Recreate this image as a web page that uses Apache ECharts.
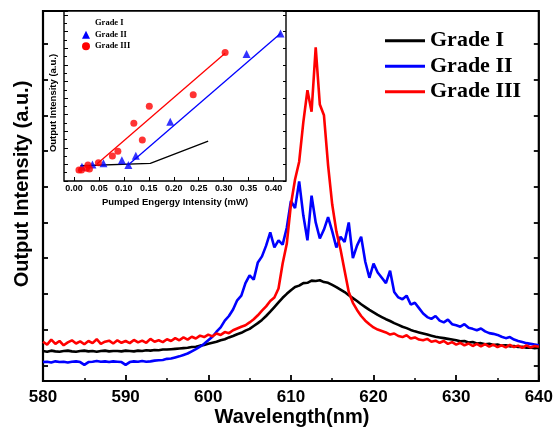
<!DOCTYPE html>
<html>
<head>
<meta charset="utf-8">
<script src="https://cdn.jsdelivr.net/npm/echarts@6/dist/echarts.min.js"></script>
<style>
html, body { margin: 0; padding: 0; background: #fff; }
#chart { width: 556px; height: 433px; }
</style>
</head>
<body>
<div id="chart"></div>
<script>
// Emission spectra, 580-640 nm in 0.5 nm steps
const wavelength = [
  580, 580.5, 581, 581.5, 582, 582.5, 583, 583.5, 584, 584.5,
  585, 585.5, 586, 586.5, 587, 587.5, 588, 588.5, 589, 589.5,
  590, 590.5, 591, 591.5, 592, 592.5, 593, 593.5, 594, 594.5,
  595, 595.5, 596, 596.5, 597, 597.5, 598, 598.5, 599, 599.5,
  600, 600.5, 601, 601.5, 602, 602.5, 603, 603.5, 604, 604.5,
  605, 605.5, 606, 606.5, 607, 607.5, 608, 608.5, 609, 609.5,
  610, 610.5, 611, 611.5, 612, 612.5, 613, 613.5, 614, 614.5,
  615, 615.5, 616, 616.5, 617, 617.5, 618, 618.5, 619, 619.5,
  620, 620.5, 621, 621.5, 622, 622.5, 623, 623.5, 624, 624.5,
  625, 625.5, 626, 626.5, 627, 627.5, 628, 628.5, 629, 629.5,
  630, 630.5, 631, 631.5, 632, 632.5, 633, 633.5, 634, 634.5,
  635, 635.5, 636, 636.5, 637, 637.5, 638, 638.5, 639, 639.5,
  640
];

const gradeI = [
  4.0, 3.8, 4.1, 3.9, 3.8, 4.0, 4.1, 3.9, 3.8, 4.0,
  4.1, 3.9, 4.0, 3.8, 4.0, 4.1, 3.9, 4.0, 4.0, 3.9,
  4.1, 4.0, 3.9, 4.1, 4.0, 4.2, 4.1, 4.3, 4.2, 4.4,
  4.4, 4.5, 4.6, 4.7, 4.8, 4.9, 5.1, 5.2, 5.5, 5.7,
  6.0, 6.3, 6.6, 7.0, 7.3, 7.8, 8.2, 8.7, 9.1, 9.7,
  10.2, 11.0, 11.8, 12.7, 13.8, 15.0, 16.3, 17.6, 18.9, 20.0,
  21.0, 21.9, 22.3, 23.0, 23.1, 23.7, 23.6, 23.8, 23.3, 23.1,
  22.5, 21.9, 21.2, 20.5, 19.6, 18.8, 18.0, 17.1, 16.3, 15.5,
  14.8, 14.1, 13.5, 12.9, 12.4, 11.8, 11.3, 10.8, 10.4, 9.9,
  9.5, 9.2, 8.9, 8.6, 8.3, 8.0, 7.8, 7.6, 7.4, 7.2,
  7.0, 6.7, 6.8, 6.4, 6.5, 6.1, 6.2, 5.9, 6.0, 5.7,
  5.8, 5.5, 5.6, 5.3, 5.4, 5.1, 5.2, 4.9, 5.0, 4.8,
  4.9
];

const gradeII = [
  0.9, 1.0, 0.8, 1.1, 0.9, 1.0, 0.8, 1.0, 1.1, 0.9,
  0.1, 0.9, 1.0, 1.2, 1.0, 1.1, 0.9, 1.1, 1.0, 0.9,
  0.1, 0.9, 1.1, 1.0, 1.2, 1.0, 1.1, 1.3, 1.4, 1.5,
  1.8, 1.9, 2.2, 2.5, 2.9, 3.3, 3.9, 4.5, 5.2, 6.0,
  7.0, 8.0, 9.4, 10.6, 12.5, 13.8, 15.6, 18.2, 19.5, 23.0,
  25.2, 24.0, 28.8, 30.5, 33.5, 37.2, 33.0, 35.0, 33.8, 38.5,
  46.0, 44.0, 51.5, 42.0, 35.0, 47.5, 40.0, 35.5, 38.0, 41.5,
  37.5, 33.0, 36.0, 34.5, 40.0, 30.0, 33.5, 36.0, 29.0, 24.5,
  28.5, 26.0, 24.5, 23.0, 26.5, 20.5, 19.0, 18.5, 19.5, 17.0,
  17.5, 16.0, 14.5, 13.5, 13.0, 13.8, 12.5, 12.0, 12.8, 11.5,
  11.2, 10.8, 11.5, 10.5, 10.2, 9.8, 10.3, 9.5, 9.0, 8.8,
  8.5, 8.0, 7.6, 7.9, 7.2, 6.8, 6.5, 6.2, 6.0, 5.8,
  5.6
];

const gradeIII = [
  6.6, 5.8, 7.2, 6.0, 6.8, 5.6, 6.4, 7.0, 6.1, 6.7,
  5.9, 6.8, 6.2, 7.3, 6.0, 6.6, 6.9, 6.1, 7.0, 6.3,
  6.8, 6.2, 7.1, 6.4, 6.9, 6.3, 7.4, 6.6, 7.0, 6.5,
  7.3, 6.8, 7.6, 7.0, 7.8, 7.2, 8.0, 7.5, 8.3, 7.9,
  8.6, 8.1, 8.9, 8.5, 9.3, 9.0, 9.8, 10.3, 10.8, 11.2,
  12.0, 12.9, 14.0, 15.3, 16.5, 18.0, 19.0, 21.5, 28.5, 34.0,
  45.0, 52.0, 57.0, 68.0, 77.0, 71.0, 89.0, 73.0, 70.0, 56.0,
  45.0, 37.5, 32.5, 26.5, 20.5, 17.5, 15.5, 13.8, 12.5, 11.5,
  10.6, 10.0, 9.6, 9.2, 8.6, 8.9, 8.2, 7.9, 8.4, 7.5,
  7.8, 7.2, 7.0, 7.4, 6.6, 6.9, 6.3, 6.8, 6.0, 6.5,
  5.8, 6.3, 5.6, 6.1, 5.4, 6.0, 5.3, 5.9, 5.2, 5.8,
  5.1, 5.6, 5.0, 5.7, 5.1, 5.5, 4.9, 5.6, 5.0, 5.4,
  5.2
];

const intensityTicks = [0, 10, 20, 30, 40, 50, 60, 70, 80, 90];

// Inset: output vs. pump energy
const pumpTicks = [0, 0.05, 0.10, 0.15, 0.20, 0.25, 0.30, 0.35, 0.40];
const pumpI = [0.013, 0.153, 0.269];
const outI = [1.84, 2.13, 4.82];
const pumpII = [0.016, 0.037, 0.059, 0.096, 0.109, 0.124, 0.193, 0.346, 0.414];
const outII = [1.72, 2.0, 2.13, 2.5, 1.93, 3.05, 7.15, 15.3, 17.8];
const fitPumpII = [0.108, 0.414];
const fitOutII = [1.9, 17.8];
const pumpIII = [0.010, 0.015, 0.025, 0.028, 0.031, 0.049, 0.077, 0.088, 0.120, 0.137, 0.151, 0.239, 0.303];
const outIII = [1.33, 1.33, 1.53, 1.93, 1.45, 2.2, 3.0, 3.6, 6.95, 4.94, 9.0, 10.4, 15.5];
const fitPumpIII = [0.046, 0.303];
const fitOutIII = [2.05, 15.4];

const names = ['Grade I', 'Grade II', 'Grade III'];
const colors = ['#000000', '#0000ff', '#ff0000'];

function pairs(xs, ys) {
  return xs.map(function (x, i) { return [x, ys[i]]; });
}

const sans = 'Liberation Sans, Arial, sans-serif';
const serif = 'Liberation Serif, Times New Roman, serif';

const chart = echarts.init(document.getElementById('chart'), null, { renderer: 'canvas' });

const spectra = [gradeI, gradeII, gradeIII];

const option = {
  animation: false,
  backgroundColor: '#fff',
  grid: [
    { left: 43, top: 11, width: 499, height: 370, show: true, borderColor: '#000', borderWidth: 2.2, backgroundColor: 'transparent' },
    { left: 64, top: 11, width: 222, height: 170, show: true, borderColor: '#000', borderWidth: 1.4, backgroundColor: '#fff' }
  ],
  xAxis: [
    {
      type: 'value', gridIndex: 0, min: 580, max: 640, interval: 10, position: 'bottom',
      axisLine: { show: false, onZero: false },
      axisTick: { show: true, inside: true, length: 6, lineStyle: { color: '#000', width: 1.8 } },
      minorTick: { show: true, splitNumber: 2, length: 3, lineStyle: { color: '#000', width: 1.5 } },
      splitLine: { show: false },
      axisLabel: { color: '#000', fontFamily: sans, fontWeight: 'bold', fontSize: 17, margin: 8 }
    },
    {
      type: 'value', gridIndex: 1, min: -0.02, max: 0.425, position: 'bottom',
      axisLine: { show: false, onZero: false },
      axisTick: { show: true, inside: true, length: 4, customValues: pumpTicks, lineStyle: { color: '#000', width: 1 } },
      splitLine: { show: false },
      axisLabel: {
        color: '#000', fontFamily: sans, fontWeight: 'bold', fontSize: 9, margin: 3,
        customValues: pumpTicks,
        formatter: function (v) { return v.toFixed(2); }
      }
    }
  ],
  yAxis: [
    {
      type: 'value', gridIndex: 0, min: -4.4, max: 99.2, position: 'left',
      axisLine: { show: false, onZero: false },
      axisTick: { show: true, inside: true, length: 5, customValues: intensityTicks, lineStyle: { color: '#000', width: 1.8 } },
      axisLabel: { show: false },
      splitLine: { show: false }
    },
    {
      type: 'value', gridIndex: 0, min: -4.4, max: 99.2, position: 'right',
      axisLine: { show: false, onZero: false },
      axisTick: { show: true, inside: true, length: 5, customValues: intensityTicks, lineStyle: { color: '#000', width: 1.8 } },
      axisLabel: { show: false },
      splitLine: { show: false }
    },
    {
      type: 'value', gridIndex: 1, min: 0, max: 20.5, interval: 2, position: 'left',
      axisLine: { show: false, onZero: false },
      axisTick: { show: true, inside: true, length: 4, lineStyle: { color: '#000', width: 1 } },
      minorTick: { show: true, splitNumber: 2, length: 3, lineStyle: { color: '#000', width: 1 } },
      axisLabel: { show: false },
      splitLine: { show: false }
    },
    {
      type: 'value', gridIndex: 1, min: 0, max: 20.5, interval: 2, position: 'right',
      axisLine: { show: false, onZero: false },
      axisTick: { show: true, inside: true, length: 3, lineStyle: { color: '#000', width: 1 } },
      axisLabel: { show: false },
      splitLine: { show: false }
    }
  ],
  legend: [
    {
      orient: 'vertical', left: 385, top: 29.7, padding: 0,
      itemWidth: 40, itemHeight: 3, itemGap: 3.5, selectedMode: false,
      textStyle: { color: '#000', fontFamily: serif, fontWeight: 'bold', fontSize: 22, lineHeight: 22 },
      data: names.map(function (n, i) {
        return { name: n, icon: 'rect', itemStyle: { color: colors[i], borderWidth: 0 } };
      })
    },
    {
      orient: 'vertical', left: 82, top: 18.7, padding: 0,
      itemWidth: 8, itemHeight: 8, itemGap: 2.5, selectedMode: false,
      textStyle: { color: '#000', fontFamily: serif, fontWeight: 'bold', fontSize: 8.5, lineHeight: 8 },
      data: [
        { name: names[0], icon: 'none', itemStyle: { color: colors[0], borderWidth: 0 } },
        { name: names[1], icon: 'triangle', itemStyle: { color: colors[1], borderWidth: 0 } },
        { name: names[2], icon: 'circle', itemStyle: { color: colors[2], borderWidth: 0 } }
      ]
    }
  ],
  graphic: [
    {
      type: 'text', x: 22, y: 184, rotation: Math.PI / 2,
      style: { text: 'Output Intensity (a.u.)', fill: '#000', font: 'bold 20px ' + sans, align: 'center', verticalAlign: 'middle' }
    },
    {
      type: 'text', x: 292, y: 417,
      style: { text: 'Wavelength(nm)', fill: '#000', font: 'bold 20px ' + sans, align: 'center', verticalAlign: 'middle' }
    },
    {
      type: 'text', x: 53, y: 103, rotation: Math.PI / 2,
      style: { text: 'Output Intensity (a.u.)', fill: '#000', font: 'bold 9.5px ' + sans, align: 'center', verticalAlign: 'middle' }
    },
    {
      type: 'text', x: 175, y: 202,
      style: { text: 'Pumped Engergy Intensity (mW)', fill: '#000', font: 'bold 9.5px ' + sans, align: 'center', verticalAlign: 'middle' }
    }
  ],
  series: spectra.map(function (vals, i) {
    return {
      name: names[i], type: 'line', xAxisIndex: 0, yAxisIndex: 0,
      data: pairs(wavelength, vals),
      symbol: 'none', showSymbol: false,
      lineStyle: { color: colors[i], width: 2.6 },
      itemStyle: { color: colors[i] },
      z: 2 + i
    };
  }).concat([
    {
      name: names[0], type: 'line', xAxisIndex: 1, yAxisIndex: 2,
      data: pairs(pumpI, outI), symbol: 'none',
      lineStyle: { color: colors[0], width: 1.3 }, itemStyle: { color: colors[0] }, z: 6
    },
    {
      name: names[1], type: 'line', xAxisIndex: 1, yAxisIndex: 2,
      data: pairs(fitPumpII, fitOutII), symbol: 'none',
      lineStyle: { color: colors[1], width: 1.3 }, itemStyle: { color: colors[1] }, z: 6
    },
    {
      name: names[2], type: 'line', xAxisIndex: 1, yAxisIndex: 2,
      data: pairs(fitPumpIII, fitOutIII), symbol: 'none',
      lineStyle: { color: colors[2], width: 1.3 }, itemStyle: { color: colors[2] }, z: 6
    },
    {
      name: names[1], type: 'scatter', xAxisIndex: 1, yAxisIndex: 2,
      data: pairs(pumpII, outII), symbol: 'triangle', symbolSize: 8,
      itemStyle: { color: colors[1] }, z: 7
    },
    {
      name: names[2], type: 'scatter', xAxisIndex: 1, yAxisIndex: 2,
      data: pairs(pumpIII, outIII), symbol: 'circle', symbolSize: 7,
      itemStyle: { color: colors[2] }, z: 8
    }
  ])
};

chart.setOption(option);
</script>
</body>
</html>
